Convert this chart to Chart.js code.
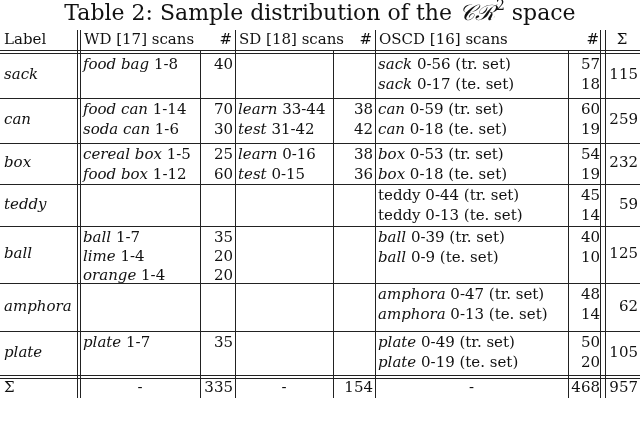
<!DOCTYPE html>
<html>
<head>
<meta charset="utf-8">
<script src="https://cdn.jsdelivr.net/npm/chart.js@4.4.0/dist/chart.umd.min.js"></script>
<style>
  html, body { margin: 0; padding: 0; background: #fff; }
  #wrap { width: 640px; height: 428px; }
</style>
</head>
<body>
<div id="wrap"><canvas id="myChart"></canvas></div>
<script>
// table content
const titleText = ['Table 2: Sample distribution of the ', '\u{1D49E}\u{211B}', '2', ' space'];
const headers = ['Label', 'WD [17] scans', '#', 'SD [18] scans', '#', 'OSCD [16] scans', '#', '\u03A3'];
const labels = ['sack', 'can', 'box', 'teddy', 'ball', 'amphora', 'plate'];
const wdScans = [[['food bag', ' 1-8']], [['food can', ' 1-14'], ['soda can', ' 1-6']], [['cereal box', ' 1-5'], ['food box', ' 1-12']], [], [['ball', ' 1-7'], ['lime', ' 1-4'], ['orange', ' 1-4']], [], [['plate', ' 1-7']]];
const wdCounts = [[40], [70, 30], [25, 60], [], [35, 20, 20], [], [35]];
const sdScans = [[], [['learn', ' 33-44'], ['test', ' 31-42']], [['learn', ' 0-16'], ['test', ' 0-15']], [], [], [], []];
const sdCounts = [[], [38, 42], [38, 36], [], [], [], []];
const oscdScans = [
  [['sack', ' 0-56 (tr. set)'], ['sack', ' 0-17 (te. set)']],
  [['can', ' 0-59 (tr. set)'], ['can', ' 0-18 (te. set)']],
  [['box', ' 0-53 (tr. set)'], ['box', ' 0-18 (te. set)']],
  [['', 'teddy 0-44 (tr. set)'], ['', 'teddy 0-13 (te. set)']],
  [['ball', ' 0-39 (tr. set)'], ['ball', ' 0-9 (te. set)']],
  [['amphora', ' 0-47 (tr. set)'], ['amphora', ' 0-13 (te. set)']],
  [['plate', ' 0-49 (tr. set)'], ['plate', ' 0-19 (te. set)']]
];
const oscdCounts = [[57, 18], [60, 19], [54, 19], [45, 14], [40, 10], [48, 14], [50, 20]];
const rowTotals = [115, 259, 232, 59, 125, 62, 105];
const sumRow = ['\u03A3', '-', '335', '-', '154', '-', '468', '957'];

// layout (in scale units)
const colEdges = [0, 80, 200, 235, 333, 375, 568, 602, 640];
const rowEdges = [30, 50, 53, 98, 143, 184, 226, 283, 331, 375, 378, 398];
const lineGap = 20.5;
const FONT = '15px "DejaVu Serif", serif';
const IFONT = 'italic 15px "DejaVu Serif", serif';

const tablePlugin = {
  id: 'table',
  afterDraw(chart) {
    const c = chart.ctx, xs = chart.scales.x, ys = chart.scales.y;
    const X = v => xs.getPixelForValue(v), Y = v => ys.getPixelForValue(v);
    c.save();
    c.fillStyle = '#111'; c.strokeStyle = '#222'; c.lineWidth = 1;
    c.textBaseline = 'middle';

    // title
    const T = '22px "DejaVu Serif", serif';
    let parts = [[titleText[0], T, 0], [titleText[1], 'italic 22px "DejaVu Serif", serif', 0], [titleText[2], '14px "DejaVu Serif", serif', -8], [titleText[3], T, 0]];
    let tw = 0;
    parts.forEach(p => { c.font = p[1]; tw += c.measureText(p[0]).width; });
    let tx = X(320) - tw / 2;
    parts.forEach(p => { c.font = p[1]; c.textAlign = 'left'; c.fillText(p[0], tx, Y(14) + p[2]); tx += c.measureText(p[0]).width; });

    const hline = (y, x0, x1) => { c.beginPath(); c.moveTo(X(x0), Math.round(Y(y)) + 0.5); c.lineTo(X(x1), Math.round(Y(y)) + 0.5); c.stroke(); };
    const vline = (x, y0, y1) => { c.beginPath(); c.moveTo(Math.round(X(x)) + 0.5, Y(y0)); c.lineTo(Math.round(X(x)) + 0.5, Y(y1)); c.stroke(); };

    // horizontal rules
    hline(rowEdges[1], 0, 640); hline(rowEdges[2], 0, 640);
    for (let i = 3; i <= 8; i++) hline(rowEdges[i], 0, 640);
    hline(rowEdges[9], 0, 640); hline(rowEdges[10], 0, 640);
    // vertical rules (header row spans scans + # columns)
    const top = rowEdges[0], bot = rowEdges[11];
    vline(colEdges[1] - 3, top, bot); vline(colEdges[1], top, bot);
    [3, 5].forEach(i => vline(colEdges[i], top, bot));
    [2, 4, 6].forEach(i => vline(colEdges[i], rowEdges[1], bot));
    vline(colEdges[7] - 2, top, bot); vline(colEdges[7] + 3, top, bot);

    const left = (txt, col, y, it) => { c.font = it ? IFONT : FONT; c.textAlign = 'left'; c.fillText(txt, X(colEdges[col] + 4), Y(y)); };
    const right = (txt, col, y) => { c.font = FONT; c.textAlign = 'right'; c.fillText(String(txt), X(colEdges[col + 1] - 2), Y(y)); };
    const mixed = (pair, col, y) => {
      let x = X(colEdges[col] + 3); c.textAlign = 'left';
      c.font = IFONT; c.fillText(pair[0], x, Y(y)); x += c.measureText(pair[0]).width;
      c.font = FONT; c.fillText(pair[1], x, Y(y));
    };

    // header
    const hy = (rowEdges[0] + rowEdges[1]) / 2;
    headers.forEach((h, i) => {
      if (h === '#') { c.font = IFONT; c.textAlign = 'right'; c.fillText(h, X(colEdges[i + 1] - 3), Y(hy)); }
      else if (i === 7) { c.font = FONT; c.textAlign = 'center'; c.fillText(h, X(622), Y(hy)); }
      else left(h, i, hy, false);
    });

    // body
    labels.forEach((lab, r) => {
      const y0 = rowEdges[r + 2], y1 = rowEdges[r + 3], mid = (y0 + y1) / 2;
      const first = y0 + 12;
      left(lab, 0, mid, true);
      const g3 = wdScans[r].length > 2 ? 0.92 : 1;
      wdScans[r].forEach((p, k) => mixed(p, 1, first + k * lineGap * g3));
      wdCounts[r].forEach((v, k) => right(v, 2, first + k * lineGap * g3));
      sdScans[r].forEach((p, k) => mixed(p, 3, first + k * lineGap));
      sdCounts[r].forEach((v, k) => right(v, 4, first + k * lineGap));
      oscdScans[r].forEach((p, k) => mixed(p, 5, first + k * lineGap));
      oscdCounts[r].forEach((v, k) => right(v, 6, first + k * lineGap));
      right(rowTotals[r], 7, mid);
    });

    // sum row
    const sy = (rowEdges[10] + rowEdges[11]) / 2;
    sumRow.forEach((s, i) => {
      if (i === 0) left(s, 0, sy, false);
      else if (s === '-') { c.font = FONT; c.textAlign = 'center'; c.fillText(s, X((colEdges[i] + colEdges[i + 1]) / 2), Y(sy)); }
      else right(s, i, sy);
    });
    c.restore();
  }
};

const ctx = document.getElementById('myChart').getContext('2d');
const myChart = new Chart(ctx, {
  type: 'scatter',
  data: { datasets: [{ data: [], pointRadius: 0 }] },
  options: {
    responsive: true,
    maintainAspectRatio: false,
    animation: false,
    layout: { padding: 0 },
    plugins: { legend: { display: false }, tooltip: { enabled: false } },
    scales: {
      x: { type: 'linear', min: 0, max: 640, display: false },
      y: { type: 'linear', min: 0, max: 428, reverse: true, display: false }
    }
  },
  plugins: [tablePlugin]
});
</script>
</body>
</html>
